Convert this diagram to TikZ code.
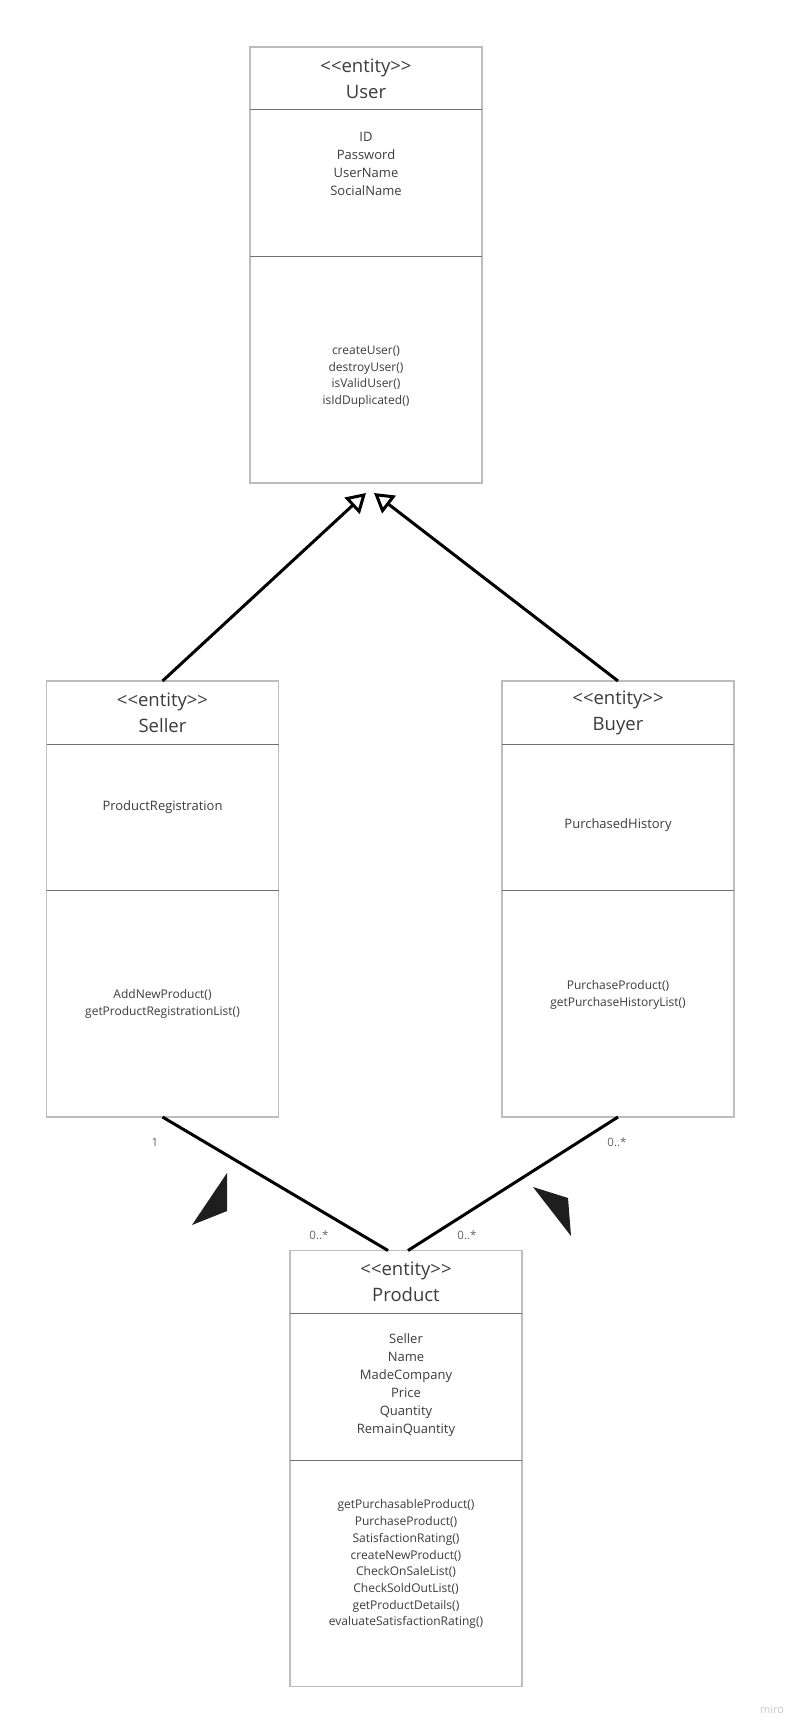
\documentclass[tikz,border=0pt]{standalone}
\usepackage{fontspec}
\setmainfont{Open Sans}
\usetikzlibrary{positioning,arrows.meta}
\definecolor{inkgray}{HTML}{3C3C3C}
\definecolor{edgegray}{HTML}{BDBDBD}
\definecolor{rulegray}{HTML}{707070}
\definecolor{multgray}{HTML}{666666}
\definecolor{markgray}{HTML}{1E1E1E}
\definecolor{brandgray}{HTML}{C8C8C8}
\tikzset{
  head/.style={rectangle,minimum width=232pt,minimum height=63pt,inner sep=0pt,outer sep=0pt,
    align=center,text=inkgray,font=\fontsize{18.5}{26}\selectfont},
  attrbox/.style={rectangle,minimum width=232pt,minimum height=146.5pt,inner sep=0pt,outer sep=0pt},
  methbox/.style={rectangle,minimum width=232pt,minimum height=226.5pt,inner sep=0pt,outer sep=0pt},
  attrtext/.style={align=center,inner sep=0pt,text=inkgray,font=\fontsize{13}{18}\selectfont},
  methtext/.style={align=center,inner sep=0pt,text=inkgray,font=\fontsize{12}{16.7}\selectfont},
  mult/.style={inner sep=0pt,text=multgray,font=\fontsize{11.5}{14}\selectfont},
  outline/.style={draw=edgegray,line width=1.3pt},
  divider/.style={draw=rulegray,line width=1pt},
  inherit/.style={line width=3pt,-{Triangle[open,length=19pt,width=22pt]}},
  assoc/.style={line width=3pt},
  dirmark/.style={fill=markgray}
}
\begin{document}
\begin{tikzpicture}[x=1pt,y=-1pt]
    \fill[white] (0,0) rectangle (804,1731);
    \useasboundingbox (0,0) rectangle (804,1731);

    % USER

    \node[head] (userhead) at (366,78.5) {{<}{<}entity{>}{>}\\User};
    \node[attrbox,below=0pt of userhead] (userattr) {};
    \node[methbox,below=0pt of userattr] (usermeth) {};
    \node[attrtext] (userattrtext) at ([yshift=19pt]userattr.center) {ID\\Password\\UserName\\SocialName};
    \node[methtext] (usermethtext) at ([yshift=-7pt]usermeth.center) {createUser()\\destroyUser()\\isValidUser()\\isIdDuplicated()};

    % SELLER

    \node[head] (sellerhead) at (162.5,712.5) {{<}{<}entity{>}{>}\\Seller};
    \node[attrbox,below=0pt of sellerhead] (sellerattr) {};
    \node[methbox,below=0pt of sellerattr] (sellermeth) {};
    \node[attrtext] (sellerattrtext) at ([yshift=10pt]sellerattr.center) {ProductRegistration};
    \node[methtext] (sellermethtext) at (sellermeth.center) {AddNewProduct()\\getProductRegistrationList()};

    % BUYER

    \node[head] (buyerhead) at (618,712.5) {{<}{<}entity{>}{>}\\Buyer};
    \node[attrbox,below=0pt of buyerhead] (buyerattr) {};
    \node[methbox,below=0pt of buyerattr] (buyermeth) {};
    \node[attrtext] (buyerattrtext) at ([yshift=-7.5pt]buyerattr.center) {PurchasedHistory};
    \node[methtext] (buyermethtext) at ([yshift=9pt]buyermeth.center) {PurchaseProduct()\\getPurchaseHistoryList()};

    % PRODUCT

    \node[head] (producthead) at (406,1282) {{<}{<}entity{>}{>}\\Product};
    \node[attrbox,below=0pt of producthead] (productattr) {};
    \node[methbox,below=0pt of productattr] (productmeth) {};
    \node[attrtext] (productattrtext) at ([yshift=1.5pt]productattr.center) {Seller\\Name\\MadeCompany\\Price\\Quantity\\RemainQuantity};
    \node[methtext] (productmethtext) at ([yshift=9pt]productmeth.center) {getPurchasableProduct()\\PurchaseProduct()\\SatisfactionRating()\\createNewProduct()\\CheckOnSaleList()\\CheckSoldOutList()\\getProductDetails()\\evaluateSatisfactionRating()};

    \foreach \cls in {user,seller,buyer,product}{
        \draw[outline] (\cls head.north west) rectangle (\cls meth.south east);
        \draw[divider] (\cls head.south west) -- (\cls head.south east);
        \draw[divider] (\cls attr.south west) -- (\cls attr.south east);
    }

    % Generalization

    \coordinate (utipl) at ([yshift=-10pt]usermeth.south);
    \coordinate (utipr) at ([xshift=8pt,yshift=-10pt]usermeth.south);
    \draw[inherit] (sellerhead.north) -- (utipl);
    \draw[inherit] (buyerhead.north) -- (utipr);

    % Associations

    \coordinate (pendl) at ([xshift=-18pt]producthead.north);
    \coordinate (pendr) at ([xshift=2pt]producthead.north);
    \draw[assoc] (sellermeth.south) -- (pendl);
    \draw[assoc] (buyermeth.south) -- (pendr);

    \node[mult] (sellermult) at ([xshift=-7.5pt,yshift=-25pt]sellermeth.south) {1};
    \node[mult] (buyermult) at ([xshift=-1pt,yshift=-25pt]buyermeth.south) {0..*};
    \node[mult] (prodmultl) at ([xshift=-87pt,yshift=15pt]producthead.north) {0..*};
    \node[mult] (prodmultr) at ([xshift=61pt,yshift=15pt]producthead.north) {0..*};

    \fill[dirmark] (227,1173) -- (227,1211) -- (192,1225) -- cycle;
    \fill[dirmark] (533,1187) -- (568,1198) -- (571,1236) -- cycle;

    \node[text=brandgray,inner sep=0pt,font=\fontsize{11}{13}\selectfont] (brand) at (772,1709) {miro};
\end{tikzpicture}
\end{document}
